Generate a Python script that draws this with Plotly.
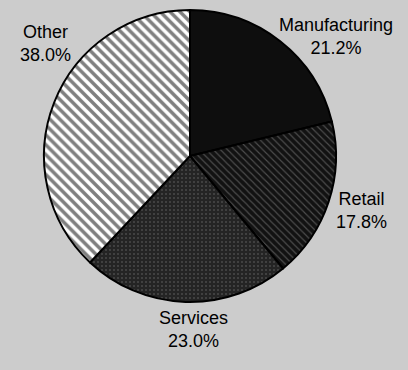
import plotly.graph_objects as go

categories = ["Manufacturing", "Retail", "Services", "Other"]
shares = [21.2, 17.8, 23.0, 38.0]
label_texts = [f"{c}<br>{v:.1f}%" for c, v in zip(categories, shares)]

fill_colors = ["#0e0e0e", "#121212", "#242424", "#ffffff"]
pattern_shapes = ["", "\\", ".", "\\"]
pattern_fg = ["#0e0e0e", "#8a8a8a", "#6e6e6e", "#000000"]
pattern_size = [8, 5, 4, 7]
pattern_solidity = [0.3, 0.22, 0.2, 0.5]

# label anchor positions (paper fraction) for outside text
label_x = [336 / 408, 361 / 408, 193 / 408, 45 / 408]
label_y = [1 - 36 / 370, 1 - 211 / 370, 1 - 329 / 370, 1 - 43 / 370]

fig = go.Figure(
    go.Pie(
        labels=categories,
        values=shares,
        sort=False,
        direction="clockwise",
        rotation=0,
        textinfo="none",
        hoverinfo="label+percent",
        showlegend=False,
        domain=dict(x=[44 / 408, 336 / 408], y=[1 - 302 / 370, 1 - 10 / 370]),
        marker=dict(
            colors=fill_colors,
            line=dict(color="#000000", width=2),
            pattern=dict(
                shape=pattern_shapes,
                fgcolor=pattern_fg,
                bgcolor=fill_colors,
                size=pattern_size,
                solidity=pattern_solidity,
                fillmode="overlay",
            ),
        ),
    )
)

for t, x, y in zip(label_texts, label_x, label_y):
    fig.add_annotation(
        text=t,
        x=x,
        y=y,
        xref="paper",
        yref="paper",
        xanchor="center",
        yanchor="middle",
        showarrow=False,
        align="center",
        font=dict(family="Liberation Sans, Arial, sans-serif", size=18, color="#000000"),
    )

fig.update_layout(
    width=408,
    height=370,
    margin=dict(l=0, r=0, t=0, b=0),
    paper_bgcolor="#cccccc",
    plot_bgcolor="#cccccc",
)

fig.write_html("out.html")
